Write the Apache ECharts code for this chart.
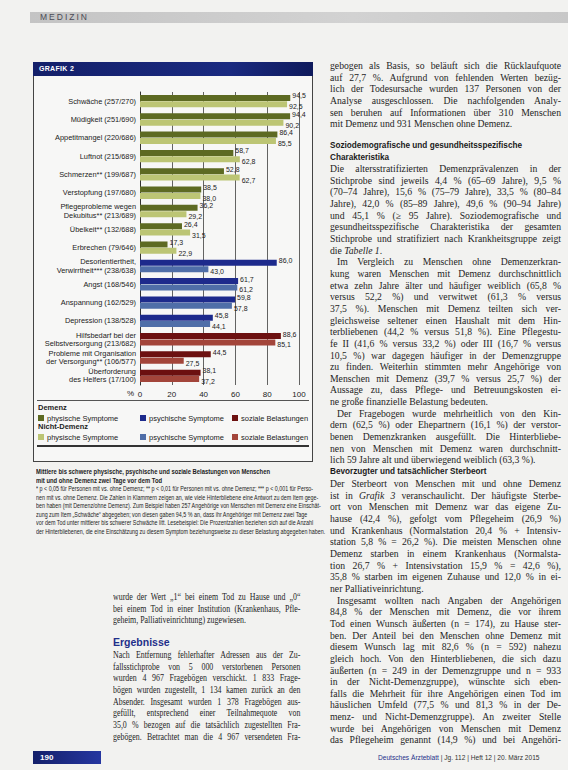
<!DOCTYPE html>
<html><head><meta charset="utf-8">
<script src="https://cdn.jsdelivr.net/npm/echarts@6/dist/echarts.min.js"></script>
<style>
html,body{margin:0;padding:0;}
body{width:568px;height:770px;position:relative;background:#f2f2f0;overflow:hidden;color:#1e1e1e;}
.abs{position:absolute;}
.col{position:absolute;font-family:"Liberation Serif","DejaVu Serif",serif;font-size:9.7px;line-height:11.65px;}
.col div{white-space:nowrap;text-align:justify;text-align-last:justify;}
.col div.l{text-align-last:left;}
.col div.i{text-indent:7px;}
.hd{position:absolute;font-family:"Liberation Sans",Arial,sans-serif;font-weight:bold;font-size:8.2px;line-height:11.65px;color:#1a1a1a;}
#chart{position:absolute;left:0;top:0;width:568px;height:770px;}
.cap{position:absolute;left:36px;top:468px;width:320px;font-family:"Liberation Sans",Arial,sans-serif;font-size:6.3px;line-height:8.5px;color:#222;transform:scaleX(0.85);transform-origin:left top;}
.cap div{white-space:nowrap;}
.cap b{font-size:6.9px;}
</style></head>
<body>
<!-- header -->
<div class="abs" style="left:30px;top:12px;width:538px;height:11px;background:linear-gradient(90deg,#c4c4c4,#d2d2d2 60%,#c8c8c8);"></div>
<div class="abs" style="left:40px;top:12px;font-family:'Liberation Sans',Arial,sans-serif;font-size:8.5px;line-height:11px;letter-spacing:2px;color:#4a4a55;">MEDIZIN</div>

<!-- chart box -->
<div class="abs" style="left:33px;top:62px;width:280px;height:400px;background:#f7f7f6;border:1px solid #444;box-sizing:border-box;"></div>
<div class="abs" style="left:33px;top:62px;width:280px;height:14px;background:linear-gradient(90deg,#14206a,#1a2a80 70%,#0f1a5c);"></div>
<div class="abs" style="left:39px;top:62px;font-family:'Liberation Sans',Arial,sans-serif;font-weight:bold;font-size:7px;line-height:14px;color:#fff;letter-spacing:0.3px;">GRAFIK 2</div>
<div class="abs" style="left:37px;top:400px;width:272px;height:1px;background:#555;"></div>
<div class="abs" style="left:37px;top:445px;width:272px;height:2px;background:#333;"></div>

<div class="cap" id="cap"></div>

<div class="col" id="right" style="left:330px;top:60px;width:231px;"></div>
<div class="col" id="left" style="left:113px;top:591px;width:230px;transform:scaleX(0.815);transform-origin:left top;"></div>
<div class="hd" id="lhd" style="left:113px;top:637px;color:#1f2f8a;font-size:10.5px;">Ergebnisse</div>

<!-- footer -->
<div class="abs" style="left:33px;top:751px;width:68px;height:13px;background:linear-gradient(90deg,#14206a,#2536a0);"></div>
<div class="abs" style="left:40px;top:751px;font-family:'Liberation Sans',Arial,sans-serif;font-weight:bold;font-size:8px;line-height:13px;color:#fff;">190</div>
<div class="abs" style="left:378px;top:751px;font-family:'Liberation Sans',Arial,sans-serif;font-size:6.6px;line-height:13px;color:#333;white-space:nowrap;"><span style="color:#1f2f8a;">Deutsches Ärzteblatt</span> | Jg. 112 | Heft 12 | 20. März 2015</div>

<div id="chart"></div>
<script>
// ---------- data ----------
const categories = [
  'Schwäche (257/270)',
  'Müdigkeit (251/690)',
  'Appetitmangel (220/686)',
  'Luftnot (215/689)',
  'Schmerzen** (199/687)',
  'Verstopfung (197/680)',
  'Pflegeprobleme wegen\nDekubitus** (213/689)',
  'Übelkeit** (132/688)',
  'Erbrechen (79/646)',
  'Desorientiertheit,\nVerwirrtheit*** (238/638)',
  'Angst (168/546)',
  'Anspannung (162/529)',
  'Depression (138/528)',
  'Hilfsbedarf bei der\nSelbstversorgung (213/682)',
  'Probleme mit Organisation\nder Versorgung** (106/577)',
  'Überforderung\ndes Helfers (17/100)'
];
const demenzValues      = [94.5, 94.4, 86.4, 58.7, 52.8, 38.5, 36.2, 26.4, 17.3, 86.0, 61.7, 59.8, 45.8, 88.6, 44.5, 38.1];
const nichtDemenzValues = [92.5, 90.2, 85.5, 62.8, 62.7, 38.0, 29.2, 31.5, 22.9, 43.0, 61.2, 57.8, 44.1, 85.1, 27.5, 37.2];
const categoryGroup     = [0, 0, 0, 0, 0, 0, 0, 0, 0, 1, 1, 1, 1, 2, 2, 2];
const groupNames = ['physische Symptome', 'psychische Symptome', 'soziale Belastungen'];
const xTicks = [0, 20, 40, 60, 80, 100];

const colorsDemenz = ['#5d6a22', '#1d2a8c', '#6c1010'];
const colorsNicht  = ['#bcc574', '#4f6ea8', '#a3453a'];

// ---------- text ----------
const captionLines = [
  '<b>Mittlere bis schwere physische, psychische und soziale Belastungen von Menschen</b>',
  '<b>mit und ohne Demenz zwei Tage vor dem Tod</b>',
  '* p < 0,05 für Personen mit vs. ohne Demenz; ** p < 0,01 für Personen mit vs. ohne Demenz; *** p < 0,001 für Perso-',
  'nen mit vs. ohne Demenz. Die Zahlen in Klammern zeigen an, wie viele Hinterbliebene eine Antwort zu dem Item gege-',
  'ben haben (mit Demenz/ohne Demenz). Zum Beispiel haben 257 Angehörige von Menschen mit Demenz eine Einschät-',
  'zung zum Item „Schwäche“ abgegeben; von diesen gaben 94,5 % an, dass ihr Angehöriger mit Demenz zwei Tage',
  'vor dem Tod unter mittlerer bis schwerer Schwäche litt. Lesebeispiel: Die Prozentzahlen beziehen sich auf die Anzahl',
  'der Hinterbliebenen, die eine Einschätzung zu diesem Symptom beziehungsweise zu dieser Belastung abgegeben haben.'
];
const rightBlocks = [
  {top:60, lines:[
    'gebogen als Basis, so beläuft sich die Rücklaufquote',
    'auf 27,7 %. Aufgrund von fehlenden Werten bezüg-',
    'lich der Todesursache wurden 137 Personen von der',
    'Analyse ausgeschlossen. Die nachfolgenden Analy-',
    'sen beruhen auf Informationen über 310 Menschen',
    '|lmit Demenz und 931 Menschen ohne Demenz.']},
  {top:163, lines:[
    'Die altersstratifizierten Demenzprävalenzen in der',
    'Stichprobe sind jeweils 4,4 % (65–69 Jahre), 9,5 %',
    '(70–74 Jahre), 15,6 % (75–79 Jahre), 33,5 % (80–84',
    'Jahre), 42,0 % (85–89 Jahre), 49,6 % (90–94 Jahre)',
    'und 45,1 % (≥ 95 Jahre). Soziodemografische und',
    'gesundheitsspezifische Charakteristika der gesamten',
    'Stichprobe und stratifiziert nach Krankheitsgruppe zeigt',
    '|ldie <i>Tabelle 1</i>.',
    '|iIm Vergleich zu Menschen ohne Demenzerkran-',
    'kung waren Menschen mit Demenz durchschnittlich',
    'etwa zehn Jahre älter und häufiger weiblich (65,8 %',
    'versus 52,2 %) und verwitwet (61,3 % versus',
    '37,5 %). Menschen mit Demenz teilten sich ver-',
    'gleichsweise seltener einen Haushalt mit dem Hin-',
    'terbliebenen (44,2 % versus 51,8 %). Eine Pflegestu-',
    'fe II (41,6 % versus 33,2 %) oder III (16,7 % versus',
    '10,5 %) war dagegen häufiger in der Demenzgruppe',
    'zu finden. Weiterhin stimmten mehr Angehörige von',
    'Menschen mit Demenz (39,7 % versus 25,7 %) der',
    'Aussage zu, dass Pflege- und Betreuungskosten ei-',
    '|lne große finanzielle Belastung bedeuten.',
    '|iDer Fragebogen wurde mehrheitlich von den Kin-',
    'dern (62,5 %) oder Ehepartnern (16,1 %) der verstor-',
    'benen Demenzkranken ausgefüllt. Die Hinterbliebe-',
    'nen von Menschen mit Demenz waren durchschnitt-',
    '|llich 59 Jahre alt und überwiegend weiblich (63,3 %).']},
  {top:478, lines:[
    'Der Sterbeort von Menschen mit und ohne Demenz',
    'ist in <i>Grafik 3</i> veranschaulicht. Der häufigste Sterbe-',
    'ort von Menschen mit Demenz war das eigene Zu-',
    'hause (42,4 %), gefolgt vom Pflegeheim (26,9 %)',
    'und Krankenhaus (Normalstation 20,4 % + Intensiv-',
    'station 5,8 % = 26,2 %). Die meisten Menschen ohne',
    'Demenz starben in einem Krankenhaus (Normalsta-',
    'tion 26,7 % + Intensivstation 15,9 % = 42,6 %),',
    '35,8 % starben im eigenen Zuhause und 12,0 % in ei-',
    '|lner Palliativeinrichtung.',
    '|iInsgesamt wollten nach Angaben der Angehörigen',
    '84,8 % der Menschen mit Demenz, die vor ihrem',
    'Tod einen Wunsch äußerten (n = 174), zu Hause ster-',
    'ben. Der Anteil bei den Menschen ohne Demenz mit',
    'diesem Wunsch lag mit 82,6 % (n = 592) nahezu',
    'gleich hoch. Von den Hinterbliebenen, die sich dazu',
    'äußerten (n = 249 in der Demenzgruppe und n = 933',
    'in der Nicht-Demenzgruppe), wünschte sich eben-',
    'falls die Mehrheit für ihre Angehörigen einen Tod im',
    'häuslichen Umfeld (77,5 % und 81,3 % in der De-',
    'menz- und Nicht-Demenzgruppe). An zweiter Stelle',
    'wurde bei Angehörigen von Menschen mit Demenz',
    'das Pflegeheim genannt (14,9 %) und bei Angehöri-']}
];
const leftBlocks = [
  {top:591, lines:[
    'wurde der Wert „1“ bei einem Tod zu Hause und „0“',
    'bei einem Tod in einer Institution (Krankenhaus, Pfle-',
    '|lgeheim, Palliativeinrichtung) zugewiesen.']},
  {top:649, lines:[
    'Nach Entfernung fehlerhafter Adressen aus der Zu-',
    'fallsstichprobe von 5 000 verstorbenen Personen',
    'wurden 4 967 Fragebögen verschickt. 1 833 Frage-',
    'bögen wurden zugestellt, 1 134 kamen zurück an den',
    'Absender. Insgesamt wurden 1 378 Fragebögen aus-',
    'gefüllt, entsprechend einer Teilnahmequote von',
    '35,0 % bezogen auf die tatsächlich zugestellten Fra-',
    'gebögen. Betrachtet man die 4 967 versendeten Fra-']}
];

function renderLines(el, blocks, baseTop){
  let html='';
  blocks.forEach(b=>{
    html += '<div style="position:absolute;left:0;top:'+(b.top-baseTop)+'px;width:100%;">';
    b.lines.forEach(t=>{
      let cls='';
      if(t.startsWith('|l')){cls='l';t=t.slice(2);}
      else if(t.startsWith('|i')){cls='i';t=t.slice(2);}
      html += '<div class="'+cls+'">'+t+'</div>';
    });
    html += '</div>';
  });
  el.innerHTML = html;
}
renderLines(document.getElementById('right'), rightBlocks, 60);
renderLines(document.getElementById('left'), leftBlocks, 591);
document.getElementById('right').insertAdjacentHTML('afterend',
  '<div class="hd" style="left:330px;top:140px;">Soziodemografische und gesundheitsspezifische<br>Charakteristika</div>'+
  '<div class="hd" style="left:330px;top:466px;">Bevorzugter und tatsächlicher Sterbeort</div>');
document.getElementById('cap').innerHTML = captionLines.map(l=>'<div>'+l+'</div>').join('');

// ---------- chart ----------
const fmt = v => v.toFixed(1).replace('.', ',');
function mask(values, g){ return values.map((v,i)=> categoryGroup[i]===g ? v : '-'); }

const labelBase = {show:true, position:'right', distance:2, fontSize:7, color:'#222', fontFamily:'Liberation Sans',
  formatter:p=>fmt(p.value)};
const series = [];
groupNames.forEach((g, gi)=>{
  series.push({
    name:'Demenz|'+g, type:'bar', stack:'D', data:mask(demenzValues, gi),
    barWidth:6, itemStyle:{color:colorsDemenz[gi]},
    label:Object.assign({}, labelBase, {offset:[0,-2]})
  });
});
groupNames.forEach((g, gi)=>{
  series.push({
    name:'Nicht|'+g, type:'bar', stack:'N', data:mask(nichtDemenzValues, gi),
    barWidth:6, barGap:'6%', itemStyle:{color:colorsNicht[gi]},
    label:Object.assign({}, labelBase, {offset:[0,2.5]})
  });
});

const legendLefts = [38, 140, 232];
const legends = [];
groupNames.forEach((g, gi)=>{
  ['Demenz','Nicht'].forEach((grp, ri)=>{
    legends.push({
      left:legendLefts[gi], top: ri===0 ? 414 : 433, data:[grp+'|'+g],
      itemWidth:6, itemHeight:6, itemGap:4, icon:'rect', selectedMode:false,
      textStyle:{fontSize:7.5, color:'#222', fontFamily:'Liberation Sans', padding:[0,0,0,-2]},
      formatter:n=>n.split('|')[1], padding:0
    });
  });
});

const chart = echarts.init(document.getElementById('chart'), null, {renderer:'svg'});
chart.setOption({
  backgroundColor:'transparent',
  animation:false,
  textStyle:{fontFamily:'Liberation Sans'},
  grid:{left:140, top:92, width:159, height:293, containLabel:false},
  xAxis:{type:'value', min:xTicks[0], max:xTicks[xTicks.length-1], interval:xTicks[1]-xTicks[0],
    axisLine:{show:false}, axisTick:{show:false},
    splitLine:{show:true, lineStyle:{color:'#3c3c3c', width:0.8}},
    axisLabel:{fontSize:8, color:'#222', margin:5}},
  yAxis:{type:'category', data:categories, inverse:true,
    axisLine:{show:true, lineStyle:{color:'#333', width:1}}, axisTick:{show:false},
    axisLabel:{fontSize:7.4, lineHeight:8.2, color:'#222', margin:4, align:'right'}},
  legend:legends,
  graphic:[
    {type:'text', left:127, top:389, style:{text:'%', fontSize:8, fill:'#222', fontFamily:'Liberation Sans'}},
    {type:'text', left:38, top:403, style:{text:'Demenz', fontSize:7.5, fontWeight:'bold', fill:'#222', fontFamily:'Liberation Sans'}},
    {type:'text', left:38, top:422, style:{text:'Nicht-Demenz', fontSize:7.5, fontWeight:'bold', fill:'#222', fontFamily:'Liberation Sans'}}
  ],
  series:series
});
</script>
</body></html>
